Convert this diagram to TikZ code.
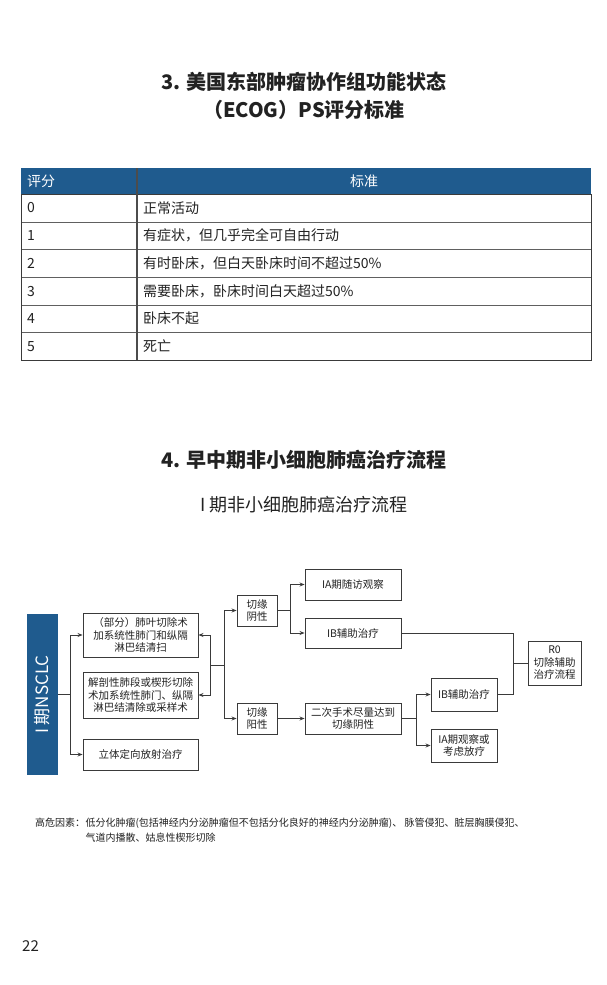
\documentclass[tikz,border=0pt]{standalone}
\usepackage{fontspec}
\setmainfont{Noto Sans CJK SC}
\usetikzlibrary{arrows.meta}
\definecolor{ecogblue}{HTML}{1F5B8E}
\definecolor{ink}{HTML}{222222}
\definecolor{linegray}{HTML}{3A3A3A}
\begin{document}
\begin{tikzpicture}[x=1pt,y=-1pt,
  box/.style={draw=linegray, line width=0.9pt, fill=white, align=center, inner sep=0pt,
    font=\fontsize{10.5}{12.5}\selectfont, text=ink},
  link/.style={draw=linegray, line width=0.8pt},
  arr/.style={link, -{Stealth[length=5pt,width=4pt]}},
  cell/.style={anchor=west, inner sep=0pt, font=\fontsize{14}{16}\selectfont, text=ink}]
\useasboundingbox[fill=white] (0,0) rectangle (606,985);

% Title of section 3
\node[font=\fontsize{20}{24}\selectfont\bfseries, text=ink] (t3a) at (304,82) {3. 美国东部肿瘤协作组功能状态};
\node[font=\fontsize{20}{24}\selectfont\bfseries, text=ink] (t3b) at (304,110) {（ECOG）PS评分标准};

% ECOG table
\fill[ecogblue] (21,168) rectangle (591,194);
\node[cell, text=white] (hs) at (27,181) {评分};
\node[cell, anchor=center, text=white] (hc) at (364,181) {标准};
\foreach \y in {222,249,277,305,332}
    \draw[gray!75!black, line width=0.8pt] (21,\y) -- (591,\y);
\draw[linegray, line width=0.8pt] (21,194) rectangle (591,360);
\draw[gray!60!black, line width=1.3pt] (137,168) -- (137,360);
\foreach \i/\txt in {0/正常活动, 1/有症状，但几乎完全可自由行动, 2/有时卧床，但白天卧床时间不超过50\%,
    3/需要卧床，卧床时间白天超过50\%, 4/卧床不起, 5/死亡}
{
    \node[cell] (s\i) at (27,208+27.67*\i) {\i};
    \node[cell] (c\i) at (143,208+27.67*\i) {\txt};
}

% Title of section 4
\node[font=\fontsize{20}{24}\selectfont\bfseries, text=ink] (t4) at (304,460) {4. 早中期非小细胞肺癌治疗流程};
\node[font=\fontsize{18}{22}\selectfont, text=ink] (t4s) at (304,505) {I 期非小细胞肺癌治疗流程};

% Flow chart boxes
\node[fill=ecogblue, minimum width=31pt, minimum height=161pt, inner sep=0pt] (nsclc) at (42.5,694.5) {};
\node[rotate=90, text=white, font=\fontsize{17}{20}\selectfont] (nsclct) at (nsclc.center) {I 期NSCLC};
\node[box, minimum width=115pt, minimum height=44pt] (lob) at (140.5,635) {（部分）肺叶切除术\\加系统性肺门和纵隔\\淋巴结清扫};
\node[box, minimum width=115pt, minimum height=46pt] (seg) at (140.5,695) {解剖性肺段或楔形切除\\术加系统性肺门、纵隔\\淋巴结清除或采样术};
\node[box, minimum width=115pt, minimum height=31pt] (sbrt) at (140.5,754.5) {立体定向放射治疗};
\node[box, minimum width=40pt, minimum height=31pt] (neg) at (257,610.5) {切缘\\阴性};
\node[box, minimum width=40pt, minimum height=31pt] (pos) at (257,718.5) {切缘\\阳性};
\node[box, minimum width=96pt, minimum height=31pt] (iaobs) at (353,584.5) {IA期随访观察};
\node[box, minimum width=96pt, minimum height=30pt] (ibadj) at (353,633) {IB辅助治疗};
\node[box, minimum width=96pt, minimum height=31pt] (resurg) at (353,718.5) {二次手术尽量达到\\切缘阴性};
\node[box, minimum width=66pt, minimum height=33pt] (ibadjb) at (464,694.5) {IB辅助治疗};
\node[box, minimum width=66pt, minimum height=33pt] (iarad) at (464,745.5) {IA期观察或\\考虑放疗};
\node[box, minimum width=53pt, minimum height=44pt] (rzero) at (554.5,663) {R0\\切除辅助\\治疗流程};

% Connectors
\draw[link] (nsclc.east) -- (70,694.5) coordinate (j1);
\draw[arr] (j1) |- (lob.west);
\draw[arr] (j1) |- (sbrt.west);
\coordinate (j2) at (210,665);
\draw[arr] (j2) |- (lob.east);
\draw[arr] (j2) |- (seg.east);
\draw[link] (j2) -- (224,665) coordinate (j3);
\draw[arr] (j3) |- (neg.west);
\draw[arr] (j3) |- (pos.west);
\draw[link] (neg.east) -- (290,610.5) coordinate (j4);
\draw[arr] (j4) |- (iaobs.west);
\draw[arr] (j4) |- (ibadj.west);
\draw[arr] (pos.east) -- (resurg.west);
\draw[link] (resurg.east) -- (416,718.5) coordinate (j5);
\draw[arr] (j5) |- (ibadjb.west);
\draw[arr] (j5) |- (iarad.west);
\coordinate (j6) at (513,663);
\draw[link] (ibadj.east) -| (j6);
\draw[link] (ibadjb.east) -| (j6);
\draw[link] (j6) -- (rzero.west);

% Footnote
\node[anchor=west, inner sep=0pt, font=\fontsize{10}{12}\selectfont, text=ink] (fnlab) at (35,823) {高危因素：};
\node[anchor=west, inner sep=0pt, font=\fontsize{10}{12}\selectfont, text=ink] (fn1) at (fnlab.east) {低分化肿瘤(包括神经内分泌肿瘤但不包括分化良好的神经内分泌肿瘤)、 脉管侵犯、脏层胸膜侵犯、};
\node[anchor=west, inner sep=0pt, font=\fontsize{10}{12}\selectfont, text=ink] (fn2) at (fn1.west |- 0,838) {气道内播散、姑息性楔形切除};

% Page number
\node[anchor=west, inner sep=0pt, font=\fontsize{15}{18}\selectfont, text=ink] (page) at (22,946) {22};
\end{tikzpicture}
\end{document}
